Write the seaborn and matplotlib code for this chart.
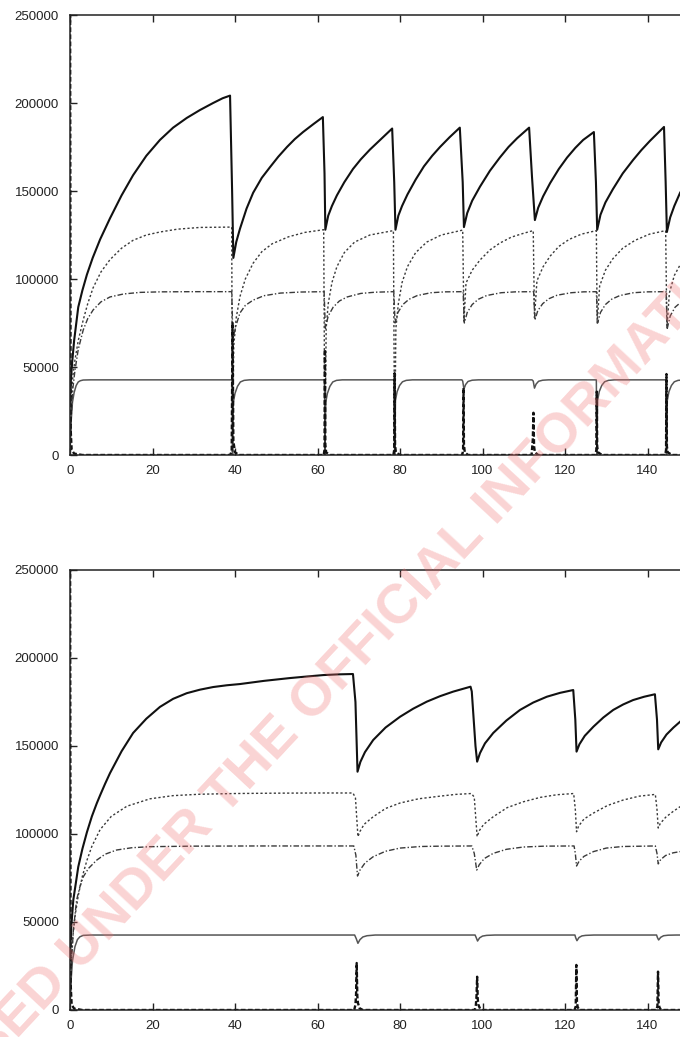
import numpy as np
import pandas as pd
import matplotlib
matplotlib.use('Agg')
import matplotlib.pyplot as plt
import seaborn as sns

# ---- top panel values ----
top_a_x = [0, 0.2, 0.5, 1.0, 2.0, 3.0, 4.1, 5.5, 7.3, 9.7, 12.5, 15.3, 18.5, 21.8, 25, 28.3, 31.5, 34.7, 37, 38.8,
           39.3, 39.6, 40.3, 41.2, 42.8, 44.4, 46.5, 48.5, 50.5, 52.6, 54.5, 56.5, 59, 61.3,
           61.7, 61.9, 62.6, 63.5, 64.7, 66.5, 68.6, 70.5, 72.7, 75.4, 78.1,
           78.6, 78.9, 79.6, 80.5, 81.8, 83.8, 85.8, 87.8, 89.7, 92, 94.5,
           95.2, 95.5, 96.3, 97.5, 99.4, 101.8, 104.2, 106.3, 108.4, 111.3,
           112.0, 112.7, 113.5, 114.7, 116.4, 118.5, 120.5, 122.5, 124.4, 127.0,
           127.5, 127.8, 128.6, 129.8, 131.6, 134, 136.5, 138.5, 140.6, 144.0,
           144.4, 144.7, 145.5, 146.5, 147.9, 150, 153]
top_a_y = [30000, 42000, 52000, 65000, 84000, 93500, 102500, 112000, 122500, 134500, 147500, 159000, 170000, 179000, 186000, 191500, 196000, 200000, 202700, 204200,
           150000, 112000, 121000, 128500, 140000, 149000, 157500, 163600, 169500, 175000, 179500, 183500, 188000, 192000,
           160000, 128000, 136000, 141500, 147500, 155000, 162500, 168000, 173500, 179500, 185500,
           155000, 128000, 136000, 141500, 148000, 156500, 164000, 170000, 175000, 180500, 186000,
           155000, 129500, 137500, 144500, 152500, 161500, 169000, 175000, 180000, 186000,
           158000, 133500, 140500, 147000, 154500, 162500, 169000, 174500, 179000, 183500,
           155000, 128000, 136500, 143500, 151000, 160000, 167600, 173200, 178500, 186400,
           155000, 126700, 135000, 141500, 149000, 157000, 166000]

top_b_x = [0, 0.3, 0.7, 1.2, 2.0, 3.2, 4.3, 5.6, 7.5, 9.7, 12.5, 15.3, 18.5, 21.8, 26, 31.5, 39.2,
           39.4, 39.7, 40.3, 41.2, 42.5, 44.4, 46.5, 49, 53, 57, 61.5,
           61.8, 62.1, 62.6, 63.5, 64.7, 66.5, 69, 72.7, 78.4,
           78.7, 79.0, 79.6, 80.5, 81.8, 83.8, 86.5, 90, 95.2,
           95.5, 96.0, 97.5, 99.4, 101.8, 104.2, 107, 110, 112.3,
           112.6, 113.2, 114.7, 116.4, 118.5, 121, 124, 127.6,
           127.8, 128.4, 129.8, 131.6, 134, 137, 140.5, 144.4,
           144.7, 145.3, 146.5, 147.9, 150, 153]
top_b_y = [0, 30000, 45000, 54000, 65000, 76700, 86000, 95000, 104000, 111000, 117500, 122000, 125000, 126700, 128300, 129300, 129500,
           0, 62000, 78000, 90000, 100000, 109000, 115500, 120000, 124000, 126500, 128000,
           0, 72000, 86000, 98000, 107000, 115000, 121000, 125000, 127500,
           0, 72000, 86000, 98000, 107000, 115000, 121000, 125000, 127800,
           76000, 97700, 105000, 110800, 116500, 120400, 123800, 126000, 127500,
           78000, 99000, 107000, 113000, 118500, 122500, 125500, 127500,
           75000, 96000, 105000, 111500, 117500, 122000, 125500, 127500,
           72000, 92000, 102000, 108000, 114000, 119500]

top_c_x = [0, 0.3, 0.7, 1.2, 2.0, 3.2, 4.3, 5.6, 7.5, 9.7, 13, 17, 22, 30, 39.2,
           39.5, 40.3, 41.2, 42.5, 44.4, 47, 51, 56, 61.6,
           61.9, 62.6, 63.8, 65.3, 67.2, 70.5, 74, 78.5,
           78.8, 79.5, 80.7, 82.2, 84.2, 87.5, 91, 95.3,
           95.6, 96.3, 97.5, 99, 101, 104.5, 108, 112.4,
           112.7, 113.4, 114.6, 116.1, 118.1, 121.5, 124.5, 127.6,
           127.9, 128.6, 129.8, 131.3, 133.3, 136.6, 140, 144.5,
           144.8, 145.5, 146.7, 147.9, 150, 153]
top_c_y = [0, 22000, 38000, 48000, 60000, 71000, 77500, 82400, 87000, 89800, 91500, 92400, 92700, 92800, 92800,
           66000, 74000, 80700, 85000, 88000, 90500, 92000, 92600, 92800,
           72000, 79000, 84000, 87500, 89800, 91800, 92500, 92800,
           75000, 81000, 85500, 88500, 90600, 92200, 92700, 92800,
           75000, 81000, 85500, 88500, 90600, 92200, 92700, 92800,
           76700, 82000, 86000, 88800, 90800, 92200, 92700, 92800,
           75000, 81000, 85500, 88500, 90600, 92200, 92700, 92800,
           72000, 79000, 84000, 86400, 89500, 91800]

top_d_x = [0, 0.3, 0.6, 1.0, 1.5, 2.0, 2.5, 3.2, 5, 39.3,
           39.4, 39.6, 40.0, 40.6, 41.3, 42.2, 43.5, 61.7,
           61.8, 62.0, 62.4, 63.0, 63.7, 64.6, 66, 78.6,
           78.7, 78.9, 79.3, 79.9, 80.6, 81.5, 83, 95.0,
           95.2, 95.5, 95.9, 96.5, 97.5, 99, 112.0,
           112.3, 112.6, 113.0, 113.6, 114.6, 116, 127.6,
           127.7, 127.9, 128.3, 128.9, 129.6, 130.5, 132, 144.5,
           144.6, 144.8, 145.2, 145.8, 146.5, 147.4, 149, 153]
top_d_y = [0, 20000, 30000, 35500, 39500, 41500, 42200, 42600, 42700, 42700,
           0, 30000, 35000, 39000, 41500, 42400, 42700, 42700,
           0, 30000, 35000, 39000, 41500, 42400, 42700, 42700,
           0, 31000, 36000, 39500, 41600, 42400, 42700, 42700,
           42000, 37500, 40000, 41800, 42500, 42700, 42700,
           42000, 38000, 40300, 41900, 42500, 42700, 42700,
           0, 31000, 36000, 39500, 41600, 42400, 42700, 42700,
           0, 31000, 36000, 39500, 41600, 42400, 42700, 42700]

top_e_x = [0, 0.15, 0.4, 1, 3,
           38.8, 39.2, 39.4, 39.6, 40.0, 41,
           61.5, 61.7, 61.8, 61.9, 62.1, 63,
           78.4, 78.6, 78.7, 78.8, 79.0, 80,
           95.1, 95.3, 95.4, 95.5, 95.7, 96.5,
           111.9, 112.2, 112.35, 112.5, 112.7, 113.5,
           127.4, 127.6, 127.7, 127.8, 128.0, 129,
           144.3, 144.5, 144.6, 144.7, 144.9, 146, 153]
top_e_y = [300000, 15000, 3000, 800, 0,
           0, 2000, 75000, 8000, 1500, 0,
           0, 3000, 60000, 6000, 1500, 0,
           0, 3000, 46500, 6000, 1500, 0,
           0, 3000, 38000, 6000, 1500, 0,
           0, 9000, 24000, 5000, 1500, 0,
           0, 3000, 36000, 5000, 1500, 0,
           0, 3000, 46000, 5000, 1500, 0, 0]

# ---- bottom panel values ----
bot_a_x = [0, 0.3, 0.8, 2.0, 3.0, 4.1, 5.3, 6.5, 7.3, 8.5, 9.7, 12.5, 15.3, 18.5, 21.8, 25, 28.3, 31.5, 34.7, 38, 41.2, 47, 53.3, 58, 61.4, 65, 68.6,
           69.2, 69.7, 70.4, 71.5, 73.5, 76.5, 80, 83.2, 86.5, 89.7, 92.9, 97.1,
           97.4, 98.3, 98.7, 99.4, 100.6, 102.6, 105.8, 109.1, 112.3, 115.6, 118.8, 122.0,
           122.5, 122.8, 123.5, 124.8, 126.9, 129.3, 131.7, 134.1, 136.5, 139.2, 141.8,
           142.3, 142.6, 143.3, 144.6, 146.3, 147.9, 150, 153]
bot_a_y = [30000, 47000, 62500, 81300, 91500, 101000, 110000, 117500, 122000, 128500, 134600, 147000, 157400, 165500, 172200, 176800, 180000, 182000, 183500, 184500, 185200, 187000, 188600, 189600, 190300, 190700, 190900,
           175000, 135400, 141000, 146500, 153400, 160500, 166600, 171200, 175200, 178300, 180900, 183700,
           181000, 150000, 141100, 146000, 151500, 157400, 164500, 170500, 174700, 178000, 180200, 181800,
           165000, 146800, 151000, 155800, 161000, 166200, 170500, 173600, 176100, 178000, 179400,
           165000, 148100, 152000, 156500, 160500, 163800, 168000, 172500]

bot_b_x = [0, 0.3, 0.7, 1.2, 2.0, 3.0, 4.1, 5.3, 7.3, 10, 13.8, 19.4, 25, 31.5, 40, 50, 60, 68.6,
           69.2, 69.6, 69.8, 70.3, 71.3, 73.5, 76.5, 80, 84.5, 89.7, 93.5, 97.3,
           98.0, 98.4, 98.7, 99.2, 100.3, 102.6, 106, 109.9, 114, 118, 122.1,
           122.5, 122.8, 123.3, 124.6, 126.9, 130.3, 134.1, 138, 141.9,
           142.3, 142.6, 143.1, 144.4, 146.2, 147.9, 150, 153]
bot_b_y = [0, 28000, 42000, 53000, 65000, 76000, 85000, 93000, 102500, 110000, 115800, 120000, 121800, 122600, 123000, 123200, 123300, 123300,
           120500, 106000, 98500, 101500, 105500, 109800, 114500, 117600, 120000, 121500, 122500, 123000,
           121000, 108000, 98500, 101800, 105500, 109800, 115000, 118300, 120800, 122300, 123000,
           114000, 101300, 104500, 108500, 111900, 116200, 119300, 121500, 122500,
           114000, 103400, 106000, 109500, 112800, 115500, 117500, 119500]

bot_c_x = [0, 0.3, 0.8, 1.6, 2.4, 3.2, 4.5, 6.5, 8.5, 11.3, 15, 19.4, 30, 45, 60, 68.8,
           69.3, 69.7, 70.3, 71.5, 73.5, 76.5, 80, 85, 90, 97.4,
           98.0, 98.6, 99.2, 100.4, 102.6, 105.8, 109.9, 115, 122.2,
           122.5, 122.8, 123.4, 124.6, 126.9, 130, 134, 141.9,
           142.3, 142.6, 143.2, 144.4, 146.2, 147.9, 150, 153]
bot_c_y = [0, 25000, 45000, 62500, 70000, 75600, 80500, 85200, 88500, 90900, 92200, 92800, 93100, 93200, 93200, 93200,
           88000, 76100, 79500, 83500, 87100, 90200, 92000, 92900, 93100, 93200,
           89000, 79500, 82500, 86000, 89000, 91300, 92600, 93100, 93200,
           89000, 81800, 84500, 87300, 90000, 92000, 92900, 93200,
           89000, 83000, 85500, 87800, 89300, 90000, 91500, 92500]

bot_d_x = [0, 0.3, 0.6, 1.2, 1.8, 2.4, 3.2, 5,
           69.0, 69.4, 69.8, 70.3, 71.0, 72.0, 74,
           98.2, 98.5, 98.8, 99.3, 100.0, 101, 103,
           122.4, 122.6, 122.9, 123.4, 124.1, 125, 127,
           142.2, 142.4, 142.7, 143.2, 143.9, 145, 147, 153]
bot_d_y = [0, 18000, 28000, 36000, 40000, 41600, 42400, 42600,
           42600, 40500, 37900, 40000, 41500, 42200, 42600,
           42600, 41000, 39200, 41000, 42000, 42400, 42600,
           42600, 41000, 39400, 41200, 42100, 42400, 42600,
           42600, 41200, 39800, 41300, 42200, 42500, 42600, 42600]

bot_e_x = [0, 0.15, 0.4, 1, 3,
           68.9, 69.2, 69.35, 69.5, 69.65, 69.8, 70.2, 71,
           98.1, 98.4, 98.55, 98.7, 98.85, 99.0, 99.4, 100,
           122.3, 122.6, 122.75, 122.9, 123.1, 123.5,
           142.1, 142.4, 142.55, 142.7, 142.9, 143.3, 153]
bot_e_y = [300000, 15000, 3000, 800, 0,
           0, 3000, 9000, 26700, 8000, 4000, 1000, 0,
           0, 3000, 8000, 18900, 6000, 3000, 800, 0,
           0, 2000, 25600, 4000, 1500, 0,
           0, 2000, 21800, 4000, 1500, 0, 0]

x_ticks = [0, 20, 40, 60, 80, 100, 120, 140]
y_ticks = [0, 50000, 100000, 150000, 200000, 250000]

# line look per series
styles = {
    'a': dict(color='#111111', lw=1.5, linestyle='-'),
    'b': dict(color='#3a3a3a', lw=1.0, linestyle=(0, (1.6, 1.6))),
    'c': dict(color='#3a3a3a', lw=1.0, linestyle=(0, (4, 1.5, 1, 1.5))),
    'd': dict(color='#555555', lw=1.1, linestyle='-'),
    'e': dict(color='#111111', lw=1.7, linestyle=(0, (2, 1))),
}

frames = []
for panel, series in [('top', [('a', top_a_x, top_a_y), ('b', top_b_x, top_b_y), ('c', top_c_x, top_c_y),
                               ('d', top_d_x, top_d_y), ('e', top_e_x, top_e_y)]),
                      ('bottom', [('a', bot_a_x, bot_a_y), ('b', bot_b_x, bot_b_y), ('c', bot_c_x, bot_c_y),
                                  ('d', bot_d_x, bot_d_y), ('e', bot_e_x, bot_e_y)])]:
    for name, xs, ys in series:
        frames.append(pd.DataFrame({'panel': panel, 'series': name, 'x': xs, 'y': ys}))
df = pd.concat(frames, ignore_index=True)

# %%
sns.set_style('ticks')
plt.rcParams['font.family'] = ['Liberation Sans', 'DejaVu Sans']

W, H = 680, 1037
fig = plt.figure(figsize=(W / 100, H / 100), dpi=100)
# x range 0..160 is wider than the picture, the right part is cut off like in the scan
ax_w = 160 * 4.125 / W
ax_top = fig.add_axes([70 / W, (H - 455) / H, ax_w, 440 / H])
ax_bot = fig.add_axes([70 / W, (H - 1010) / H, ax_w, 440 / H])

for ax, panel in [(ax_top, 'top'), (ax_bot, 'bottom')]:
    sub = df[df.panel == panel]
    for name in ['d', 'c', 'b', 'e', 'a']:
        s = sub[sub.series == name]
        sns.lineplot(data=s, x='x', y='y', ax=ax, estimator=None, sort=False, **styles[name])
    ax.set_xlim(0, 160)
    ax.set_ylim(0, 250000)
    ax.set_xticks(x_ticks)
    ax.set_yticks(y_ticks)
    ax.set(xlabel='', ylabel='')
    ax.tick_params(direction='in', top=True, right=True, length=5, width=1,
                   labelsize=9.5, colors='#222222')
    ax.tick_params(axis='x', pad=7)
    ax.tick_params(axis='y', pad=8)
    for sp in ax.spines.values():
        sp.set_color('#222222')
        sp.set_linewidth(1.1)

fig.text(0.508, 0.356, 'RELEASED UNDER THE OFFICIAL INFORMATION ACT',
         rotation=47, rotation_mode='anchor', ha='center', va='center',
         fontsize=40, fontweight='bold', color='#f07070', alpha=0.3, zorder=10)

plt.savefig('out.png', dpi=100)
